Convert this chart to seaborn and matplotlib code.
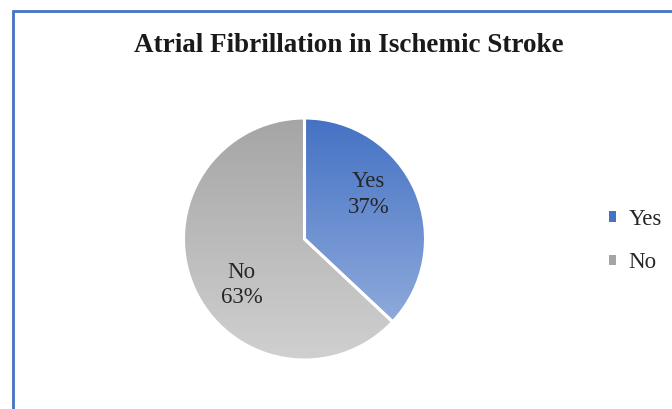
import numpy as np
import matplotlib
matplotlib.use("Agg")
import matplotlib.pyplot as plt
import seaborn as sns
from matplotlib.colors import LinearSegmentedColormap, to_rgb
from matplotlib.patches import Patch, Rectangle

sns.set_theme(style="white")
plt.rcParams['font.family'] = ['Liberation Serif', 'DejaVu Serif']

categories = ["Yes", "No"]
values = [37, 63]
title = "Atrial Fibrillation in Ischemic Stroke"

top_colors = ["#4472C4", "#A5A5A5"]
bottom_colors = ["#8FAADC", "#D0D0D0"]

W, H = 672, 409
fig = plt.figure(figsize=(W / 100, H / 100), dpi=100)
fig.patch.set_facecolor("white")

# border
fig.add_artist(Rectangle((12.5 / W, -0.1), 1.2, (H - 10.5) / H + 0.1,
                         transform=fig.transFigure, fill=False,
                         edgecolor="#4472C4", linewidth=2.0))

cx, cy, r = 304.5, 239, 121
ax = fig.add_axes([(cx - r) / W, (H - cy - r) / H, 2 * r / W, 2 * r / H])
ax.set_xlim(-1, 1)
ax.set_ylim(-1, 1)
ax.axis("off")

wedges, _ = ax.pie(values, startangle=90, counterclock=False, radius=1,
                   colors=top_colors,
                   wedgeprops=dict(edgecolor="white", linewidth=2.2))

for w, ctop, cbot in zip(wedges, top_colors, bottom_colors):
    w.set_facecolor("none")
    w.set_zorder(3)
    bb = w.get_path().get_extents(w.get_patch_transform())
    cmap = LinearSegmentedColormap.from_list("g", [to_rgb(cbot), to_rgb(ctop)])
    grad = np.linspace(0, 1, 256).reshape(-1, 1)
    im = ax.imshow(grad, cmap=cmap, origin="lower", aspect="auto",
                   extent=(-1, 1, bb.y0, bb.y1), zorder=2)
    im.set_clip_path(w)
ax.set_xlim(-1, 1)
ax.set_ylim(-1, 1)

label_pos = [(0.53, 0.37), (-0.52, -0.38)]
for cat, v, (x, y) in zip(categories, values, label_pos):
    ax.text(x, y, f"{cat}\n{v}%", ha="center", va="center", fontsize=16.5,
            color="#262626", linespacing=1.3, zorder=5)

fig.text(349 / W, 1 - 45 / H, title, ha="center", va="center",
         fontsize=19.5, fontweight="bold", color="#1a1a1a")

handles = [Patch(facecolor=c, edgecolor="none") for c in top_colors]
leg = fig.legend(handles, categories, loc="center left",
                 bbox_to_anchor=(588 / W, 1 - 241 / H), frameon=False,
                 fontsize=16.5, handlelength=0.33, handleheight=0.33,
                 handletextpad=0.55, labelspacing=1.0)
for t in leg.get_texts():
    t.set_color("#262626")

fig.savefig("out.png", dpi=100, facecolor="white")
